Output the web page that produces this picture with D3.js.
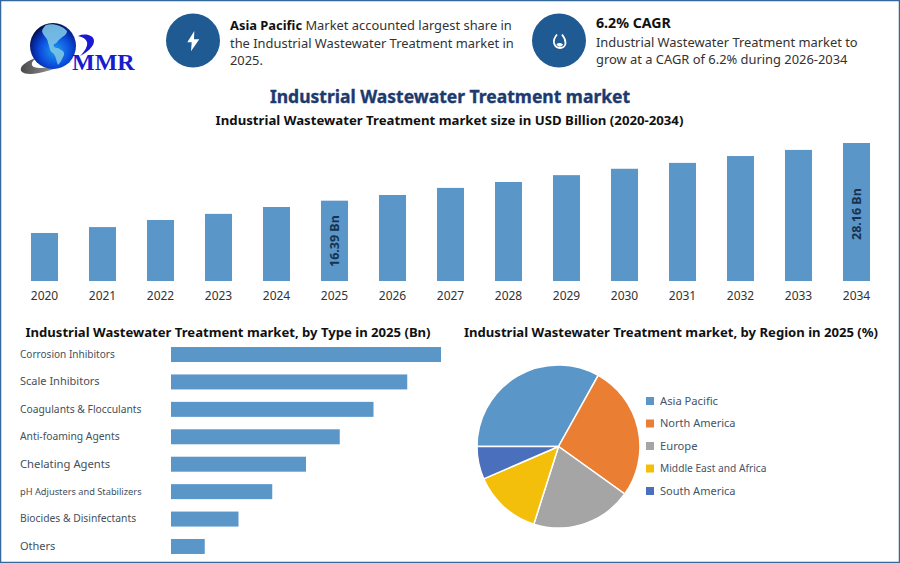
<!DOCTYPE html>
<html>
<head>
<meta charset="utf-8">
<title>Industrial Wastewater Treatment market</title>
<script src="https://cdn.jsdelivr.net/npm/d3@7"></script>
<style>
	html, body { margin: 0; padding: 0; background: #fff; }
	svg { display: block; font-family: "Noto Sans", sans-serif; }
	.axis .domain, .axis line { display: none; }
</style>
</head>
<body>
<div id="chart"></div>
<script>
const years = ['2020', '2021', '2022', '2023', '2024', '2025', '2026', '2027', '2028', '2029', '2030', '2031', '2032', '2033', '2034'];
const marketSize = [9.8, 11.0, 12.45, 13.7, 15.1, 16.39, 17.55, 19.0, 20.2, 21.6, 22.9, 24.1, 25.5, 26.75, 28.16];
const sizeLabels = { 2025: '16.39 Bn', 2034: '28.16 Bn' };

const types = ['Corrosion Inhibitors', 'Scale Inhibitors', 'Coagulants & Flocculants', 'Anti-foaming Agents', 'Chelating Agents', 'pH Adjusters and Stabilizers', 'Biocides & Disinfectants', 'Others'];
const typeValues = [8, 7, 6, 5, 4, 3, 2, 1];

const regions = ['Asia Pacific', 'North America', 'Europe', 'Middle East and Africa', 'South America'];
const regionShares = [33.1, 26.8, 20, 13.6, 6.5];

const BLUE = '#5b96c9';
const regionColors = [BLUE, '#ea7f33', '#a5a5a5', '#f3bf0a', '#4a6fbd'];
const typeLabelSizes = [10.05, 11, 10.3, 10.3, 11.25, 9.25, 10.3, 11];
const regionLabelSizes = [11.2, 11, 11.2, 10.2, 11];

const svg = d3.select('#chart').append('svg').attr('width', 900).attr('height', 563);

svg.append('rect')
	.attr('x', 0.5).attr('y', 0.5).attr('width', 899).attr('height', 562)
	.attr('fill', '#fff').attr('stroke', '#336a9b').attr('stroke-width', 1.5);

// Logo
const defs = svg.append('defs');
const globeGrad = defs.append('radialGradient').attr('id', 'globe').attr('cx', '0.55').attr('cy', '0.6').attr('r', '0.62');
globeGrad.append('stop').attr('offset', '0').attr('stop-color', '#1f9cf0');
globeGrad.append('stop').attr('offset', '0.55').attr('stop-color', '#0b4bdc');
globeGrad.append('stop').attr('offset', '0.85').attr('stop-color', '#06208c');
globeGrad.append('stop').attr('offset', '1').attr('stop-color', '#020824');
const swooshGrad = defs.append('linearGradient').attr('id', 'swoosh');
swooshGrad.append('stop').attr('offset', '0').attr('stop-color', '#4a4a4a');
swooshGrad.append('stop').attr('offset', '1').attr('stop-color', '#c4c4c4');

const logo = svg.append('g');
logo.append('path')
	.attr('d', 'M36,58 C24,62 18,68 22,72 C28,77 52,72 75,60 C60,66 42,70 34,67 C30,65 32,61 36,58 Z')
	.attr('fill', 'url(#swoosh)');
logo.append('circle').attr('cx', 53).attr('cy', 46).attr('r', 23).attr('fill', 'url(#globe)');
logo.append('path')
	.attr('d', 'M46,25 C52,23 62,25 67,31 C67,35 63,36 60,39 C57,41 57,44 54,44 C53,47 55,48 58,48 C61,50 65,51 64,55 C62,59 61,62 58,65 C56,60 56,56 53,53 C49,51 50,47 48,43 C48,38 43,36 42,31 C43,28 44,27 46,25 Z')
	.attr('fill', '#7cc4e4').attr('opacity', 0.9);
logo.append('path')
	.attr('d', 'M78,36 C85,33 94,35 94,41 C94,47 86,53 80,56 C85,51 88,46 87,42 C86,39 83,37 78,36 Z')
	.attr('fill', '#1a1ad0');
logo.append('text')
	.attr('x', 72).attr('y', 70)
	.style('font-family', '"Liberation Serif", serif').style('font-weight', 700).style('font-size', '24px')
	.attr('fill', '#1a1ad0')
	.text('MMR');

// Header badges
const BADGE = '#1f5a92';
svg.append('circle').attr('cx', 193).attr('cy', 40.5).attr('r', 27).attr('fill', BADGE);
svg.append('circle').attr('cx', 559).attr('cy', 40.5).attr('r', 27).attr('fill', BADGE);
svg.append('path')
	.attr('d', 'M194.3,31 L187.3,42.3 L191.7,42.3 L191,51.3 L199.3,39.3 L194,39.3 Z')
	.attr('fill', '#fff');
svg.append('path')
	.attr('d', 'M557,34.5 C554.5,37.5 553.5,40.5 554,43 C555,46.5 557.5,48 560,48 C563,48 565.5,46 565.5,43 C565.5,40 564,37 562,34.5')
	.attr('fill', 'none').attr('stroke', '#fff').attr('stroke-width', 1.8);
svg.append('path')
	.attr('d', 'M556.5,44 C558.5,42.5 561,42.5 563,44.5 C561,47.5 558,47.5 556.5,44 Z')
	.attr('fill', '#fff');

const headText = (x, y, parts, size = 12.9) => {
	const t = svg.append('text').attr('x', x).attr('y', y).attr('fill', '#333').style('font-size', `${size}px`);
	parts.forEach(p => t.append('tspan').attr('font-weight', p.bold ? 700 : 400).attr('fill', p.bold ? '#111' : '#333').text(p.text));
};
headText(230, 30, [{ text: 'Asia Pacific', bold: true }, { text: ' Market accounted largest share in' }]);
headText(230, 48, [{ text: 'the Industrial Wastewater Treatment market in' }]);
headText(230, 65, [{ text: '2025.' }]);
headText(596, 28, [{ text: '6.2% CAGR', bold: true }], 14.2);
headText(596, 47, [{ text: 'Industrial Wastewater Treatment market to' }]);
headText(596, 64, [{ text: 'grow at a CAGR of 6.2% during 2026-2034' }]);

// Titles
const title = (x, y, size, color, text) => svg.append('text')
	.attr('x', x).attr('y', y).attr('text-anchor', 'middle').attr('fill', color)
	.style('font-size', `${size}px`).style('font-weight', 700).text(text);
title(450, 103, 17.5, '#1d3a6e', 'Industrial Wastewater Treatment market')
	.attr('stroke', '#1d3a6e').attr('stroke-width', 0.35);
title(449.5, 125, 13.2, '#111', 'Industrial Wastewater Treatment market size in USD Billion (2020-2034)');
title(228, 337, 13.1, '#111', 'Industrial Wastewater Treatment market, by Type in 2025 (Bn)');
title(671, 337, 13.1, '#111', 'Industrial Wastewater Treatment market, by Region in 2025 (%)');

// Market size columns
const baseY = 281;
const xYear = d3.scaleBand().domain(years).range([15.5, 885.5]).paddingInner(0.534).paddingOuter(0.267);
const ySize = d3.scaleLinear().domain([0, 28.16]).range([baseY, 143]);

svg.append('g').selectAll('rect')
	.data(years)
	.enter()
	.append('rect')
	.attr('x', d => xYear(d))
	.attr('y', (d, i) => ySize(marketSize[i]))
	.attr('width', xYear.bandwidth())
	.attr('height', (d, i) => baseY - ySize(marketSize[i]))
	.attr('fill', BLUE);

svg.append('g')
	.attr('class', 'axis')
	.attr('transform', `translate(0,${baseY})`)
	.call(d3.axisBottom(xYear).tickSize(0).tickPadding(10))
	.selectAll('text')
	.style('font-family', '"Noto Sans", sans-serif')
	.style('font-size', '12px')
	.attr('fill', '#333');

const labelBottom = { 2025: 267, 2034: 240 };
Object.keys(sizeLabels).forEach(year => {
	const cx = xYear(year) + xYear.bandwidth() / 2;
	svg.append('text')
		.attr('transform', `translate(${cx + 4},${labelBottom[year]}) rotate(-90)`)
		.attr('fill', '#17324f')
		.style('font-size', '12.5px').style('font-weight', 700)
		.text(sizeLabels[year]);
});

// Type bars
const xType = d3.scaleLinear().domain([0, 8]).range([171, 441]);
const yType = d3.scaleBand().domain(types).range([334.6, 566.4]).padding(0.453);

svg.append('g').selectAll('rect')
	.data(types)
	.enter()
	.append('rect')
	.attr('x', xType(0))
	.attr('y', d => yType(d))
	.attr('width', (d, i) => xType(typeValues[i]) - xType(0))
	.attr('height', yType.bandwidth())
	.attr('fill', BLUE);

svg.append('g')
	.attr('class', 'axis')
	.attr('transform', 'translate(20,0)')
	.call(d3.axisLeft(yType).tickSize(0).tickPadding(0))
	.selectAll('text')
	.attr('text-anchor', 'start')
	.attr('x', 0)
	.style('font-family', '"Noto Sans", sans-serif')
	.style('font-size', (d, i) => `${typeLabelSizes[i]}px`)
	.attr('fill', '#44505c');

// Region pie
const pie = d3.pie().sort(null).startAngle(1.5 * Math.PI).endAngle(3.5 * Math.PI);
const arc = d3.arc().innerRadius(0).outerRadius(81.5);
svg.append('g')
	.attr('transform', 'translate(558.5,446.5)')
	.selectAll('path')
	.data(pie(regionShares))
	.enter()
	.append('path')
	.attr('d', arc)
	.attr('fill', (d, i) => regionColors[i])
	.attr('stroke', '#fff')
	.attr('stroke-width', 1.5);

const yLegend = d3.scalePoint().domain(regions).range([401, 491]);
const legend = svg.append('g').selectAll('g')
	.data(regions)
	.enter()
	.append('g')
	.attr('transform', d => `translate(646,${yLegend(d)})`);
legend.append('rect').attr('x', 0).attr('y', -4).attr('width', 8).attr('height', 8)
	.attr('fill', (d, i) => regionColors[i]);
legend.append('text').attr('x', 14).attr('dy', '0.35em')
	.attr('fill', '#44546a')
	.style('font-size', (d, i) => `${regionLabelSizes[i]}px`)
	.text(d => d);
</script>
</body>
</html>
